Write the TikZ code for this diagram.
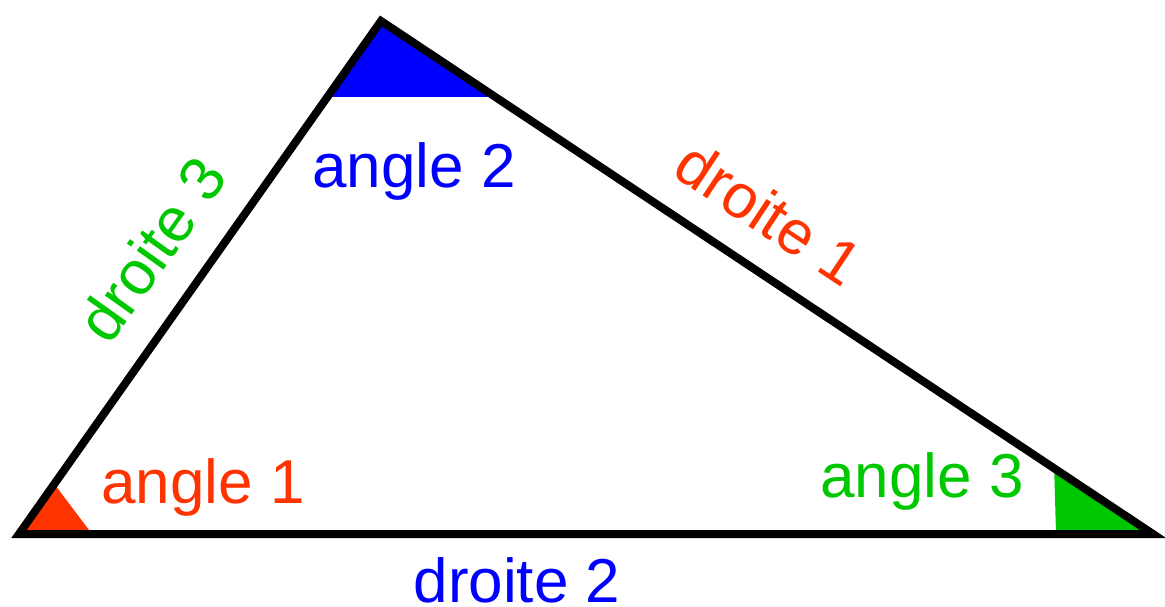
\documentclass[tikz,border=0pt]{standalone}
\usepackage{fontspec}
\setmainfont{Liberation Sans}
\usetikzlibrary{calc}
\definecolor{cred}{HTML}{FF3300}
\definecolor{cblue}{HTML}{0000FF}
\definecolor{cgreen}{HTML}{00C800}
\begin{document}
\begin{tikzpicture}[x=1pt,y=-1pt,
  lbl/.style={font=\fontsize{62}{74}\selectfont, inner sep=0pt, anchor=base},
  side/.style={draw=black, line width=8pt, line join=miter}]
\useasboundingbox (0,0) rectangle (1165,607);
\coordinate (A) at (19,534);
\coordinate (B) at (381,21);
\coordinate (C) at (1153,534);
% angle fills
\fill[cred] (A) -- ($(A)!0.0975!(B)$) -- (92,534) -- cycle;
\fill[cblue] (B) -- ($(B)!0.148!(A)$) -- ($(B)!0.148!(C)$) -- cycle;
\fill[cgreen] (C) -- ($(B)!0.872!(C)$) -- (1056,534) -- cycle;
% triangle
\draw[side] (A) -- (B) -- (C) -- cycle;
% labels
\node[lbl, text=cblue] (a2) at (414,187) {angle 2};
\node[lbl, text=cred] (a1) at (203,503) {angle 1};
\node[lbl, text=cgreen] (a3) at (922,497) {angle 3};
\node[lbl, text=cblue] (d2) at (517,602) {droite 2};
\node[lbl, text=cred, rotate=-33.5] (d1) at (757,232) {droite 1};
\node[lbl, text=cgreen, rotate=54.5] (d3) at (170,262) {droite 3};
\end{tikzpicture}
\end{document}
